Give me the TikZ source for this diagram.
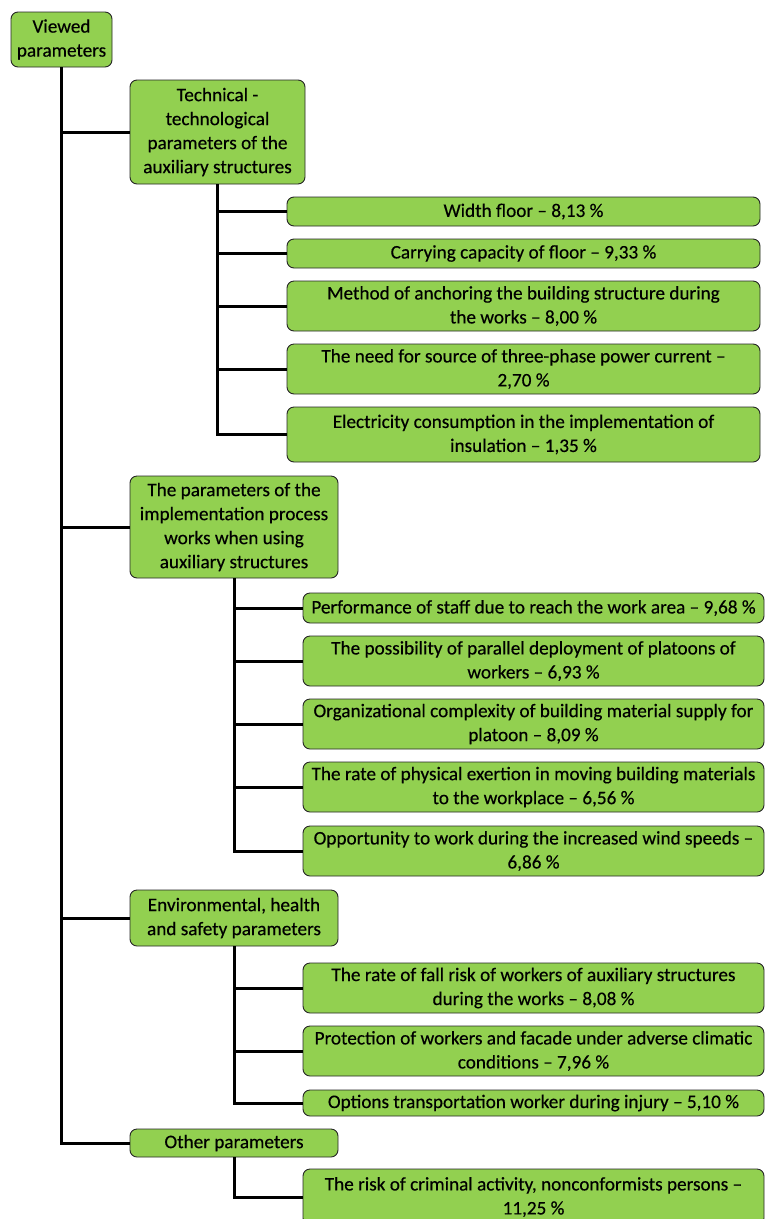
\documentclass[tikz,border=0pt]{standalone}
\usepackage{fontspec}
\setmainfont{Carlito}[FakeBold=0.35]
\definecolor{boxgreen}{HTML}{92D050}
\definecolor{boxedge}{HTML}{262626}
\tikzset{
  pbox/.style={draw=boxedge, fill=boxgreen, rounded corners=7pt, line width=0.9pt,
    align=center, inner sep=0pt, text=black,
    font=\fontsize{19.2}{24}\selectfont},
  conn/.style={line width=3pt, black}
}
\begin{document}
\begin{tikzpicture}[x=1pt,y=-1pt]
\useasboundingbox (0,0) rectangle (765,1219);
\clip (0,0) rectangle (765,1219);
% root
\node[pbox, minimum width=101pt, minimum height=55pt] (root) at (61.5,39.5) {Viewed\\parameters};
% level 1
\node[pbox, minimum width=175pt, minimum height=104pt] (tech) at (217.5,132) {Technical -\\technological\\parameters of the\\auxiliary structures};
\node[pbox, minimum width=208pt, minimum height=102pt] (proc) at (234,527) {The parameters of the\\implementation process\\works when using\\auxiliary structures};
\node[pbox, minimum width=208pt, minimum height=56pt] (env) at (234,918) {Environmental, health\\and safety parameters};
\node[pbox, minimum width=208pt, minimum height=28pt] (oth) at (234,1143) {Other parameters};
% tech children
\node[pbox, minimum width=473pt, minimum height=29pt] (t1) at (523.5,211.5) {Width floor -- 8,13 \%};
\node[pbox, minimum width=473pt, minimum height=29pt] (t2) at (523.5,253.5) {Carrying capacity of floor -- 9,33 \%};
\node[pbox, minimum width=473pt, minimum height=50pt] (t3) at (523.5,306) {Method of anchoring the building structure during\\the works -- 8,00 \%};
\node[pbox, minimum width=473pt, minimum height=50pt] (t4) at (523.5,369) {The need for source of three-phase power current --\\2,70 \%};
\node[pbox, minimum width=473pt, minimum height=55pt] (t5) at (523.5,434.5) {Electricity consumption in the implementation of\\insulation -- 1,35 \%};
% process children
\node[pbox, minimum width=461pt, minimum height=30pt] (p1) at (533.5,608) {Performance of staff due to reach the work area -- 9,68 \%};
\node[pbox, minimum width=461pt, minimum height=50pt] (p2) at (533.5,661) {The possibility of parallel deployment of platoons of\\workers -- 6,93 \%};
\node[pbox, minimum width=461pt, minimum height=50pt] (p3) at (533.5,724) {Organizational complexity of building material supply for\\platoon -- 8,09 \%};
\node[pbox, minimum width=461pt, minimum height=50pt] (p4) at (533.5,787) {The rate of physical exertion in moving building materials\\to the workplace -- 6,56 \%};
\node[pbox, minimum width=461pt, minimum height=50pt] (p5) at (533.5,851) {Opportunity to work during the increased wind speeds --\\6,86 \%};
% env children
\node[pbox, minimum width=461pt, minimum height=50pt] (e1) at (533.5,988) {The rate of fall risk of workers of auxiliary structures\\during the works -- 8,08 \%};
\node[pbox, minimum width=461pt, minimum height=50pt] (e2) at (533.5,1051) {Protection of workers and facade under adverse climatic\\conditions -- 7,96 \%};
\node[pbox, minimum width=461pt, minimum height=26pt] (e3) at (533.5,1103) {Options transportation worker during injury -- 5,10 \%};
% other child
\node[pbox, minimum width=461pt, minimum height=56pt] (o1) at (533.5,1197) {The risk of criminal activity, nonconformists persons --\\11,25 \%};
% connectors
\draw[conn] (root.south) |- (tech.west);
\draw[conn] (root.south) |- (proc.west);
\draw[conn] (root.south) |- (env.west);
\draw[conn] (root.south) |- (oth.west);
\foreach \c in {t1,t2,t3,t4,t5} \draw[conn] (tech.south) |- (\c.west);
\foreach \c in {p1,p2,p3,p4,p5} \draw[conn] (proc.south) |- (\c.west);
\foreach \c in {e1,e2,e3} \draw[conn] (env.south) |- (\c.west);
\draw[conn] (oth.south) |- (o1.west);
\end{tikzpicture}
\end{document}
